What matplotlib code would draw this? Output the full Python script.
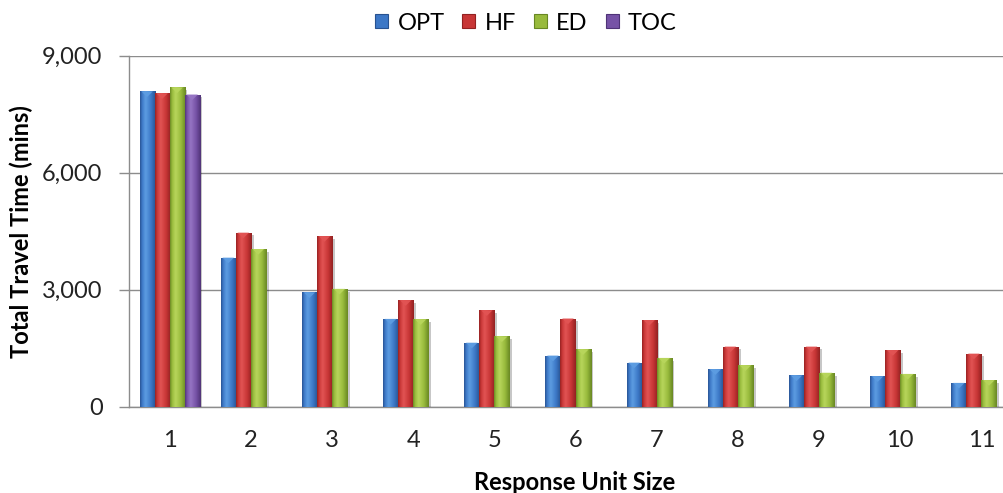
import numpy as np
import matplotlib
matplotlib.use("Agg")
import matplotlib.pyplot as plt
import matplotlib.patheffects as pe
from matplotlib.colors import LinearSegmentedColormap
from matplotlib.patches import Polygon, Rectangle
from matplotlib.ticker import FuncFormatter

# Data
unit_sizes = ["1", "2", "3", "4", "5", "6", "7", "8", "9", "10", "11"]
opt = [8080, 3820, 2930, 2250, 1640, 1310, 1130, 960, 800, 780, 610]
hf = [8030, 4460, 4370, 2730, 2470, 2260, 2220, 1540, 1540, 1450, 1360]
ed = [8180, 4040, 3020, 2240, 1800, 1470, 1250, 1060, 870, 840, 680]
toc = [8000, np.nan, np.nan, np.nan, np.nan, np.nan, np.nan, np.nan, np.nan, np.nan, np.nan]
series_names = ["OPT", "HF", "ED", "TOC"]
y_ticks = [0, 3000, 6000, 9000]

# (light, mid, dark) shades per series
shades = [
    ("#5d9de2", "#3c77c6", "#285290"),
    ("#e25454", "#c83636", "#922121"),
    ("#b8d65c", "#98ba3c", "#688723"),
    ("#9675c4", "#7652a6", "#4f3377"),
]

plt.rcParams["font.family"] = ["Lato", "DejaVu Sans"]

fig = plt.figure(figsize=(10.04, 4.93), dpi=100)
ax = fig.add_axes([129 / 1004, 86.3 / 493, 893 / 1004, 351.2 / 493])

n_series = 4
bar_w = 0.185
x = np.arange(len(unit_sizes))
values = [opt, hf, ed, toc]
ymax = 9000
tri_depth = 0.016 * ymax

for s, vals in enumerate(values):
    light, mid, dark = shades[s]
    cmap = LinearSegmentedColormap.from_list(
        f"bar{s}", [(0, dark), (0.12, mid), (0.35, light), (0.7, mid), (1, dark)])
    grad = np.linspace(0, 1, 64).reshape(1, -1)
    offs = (s - (n_series - 1) / 2) * bar_w
    bars = ax.bar(x + offs, vals, width=bar_w, color=mid, edgecolor="none", zorder=3)
    for b, v in zip(bars, vals):
        if np.isnan(v):
            continue
        b.set_path_effects([pe.SimplePatchShadow(offset=(2, -2), shadow_rgbFace="#000000", alpha=0.22),
                            pe.Normal()])
        x0 = b.get_x()
        x1 = x0 + b.get_width()
        im = ax.imshow(grad, cmap=cmap, aspect="auto", extent=[x0, x1, 0, v],
                       zorder=3.5, interpolation="bicubic")
        im.set_clip_path(b)
        tri = Polygon([[x0 + bar_w * 0.12, v], [x1 - bar_w * 0.12, v],
                       [(x0 + x1) / 2, v - tri_depth]], closed=True,
                      facecolor=light, edgecolor="none", alpha=0.95, zorder=4)
        ax.add_patch(tri)

ax.set_xlim(-0.5, len(unit_sizes) - 0.5)
ax.set_ylim(0, ymax)
ax.set_yticks(y_ticks)
ax.yaxis.set_major_formatter(FuncFormatter(lambda v, p: f"{int(v):,}"))
ax.set_xticks(x)
ax.set_xticklabels(unit_sizes)

ax.grid(axis="y", color="#8c8c8c", linewidth=1.0, zorder=0)
ax.set_axisbelow(True)
for side in ["top", "right"]:
    ax.spines[side].set_visible(False)
for side in ["left", "bottom"]:
    ax.spines[side].set_color("#8c8c8c")
    ax.spines[side].set_linewidth(1.0)

ax.tick_params(axis="y", direction="out", length=7, width=1, color="#8c8c8c",
               pad=12, labelsize=17, labelcolor="#222222")
ax.tick_params(axis="x", length=0, pad=17, labelsize=17, labelcolor="#222222")

ax.set_ylabel("Total Travel Time (mins)", fontsize=17, fontweight="bold")
ax.yaxis.set_label_coords(-(129 - 33) / 893, 0.5)
ax.set_xlabel("Response Unit Size", fontsize=17, fontweight="bold")
ax.xaxis.set_label_coords((575 - 129) / 893, -(471 - 406.7) / 351.2)

handles = [Rectangle((0, 0), 1, 1, facecolor=shades[i][1], edgecolor=shades[i][2], linewidth=0.8)
           for i in range(n_series)]
fig.legend(handles, series_names, loc="center", bbox_to_anchor=(526 / 1004, 1 - 23 / 493),
           ncol=4, frameon=False, fontsize=17, handlelength=0.55, handleheight=0.55,
           handletextpad=0.4, columnspacing=0.75)

fig.savefig("out.png", dpi=100, facecolor="white")
